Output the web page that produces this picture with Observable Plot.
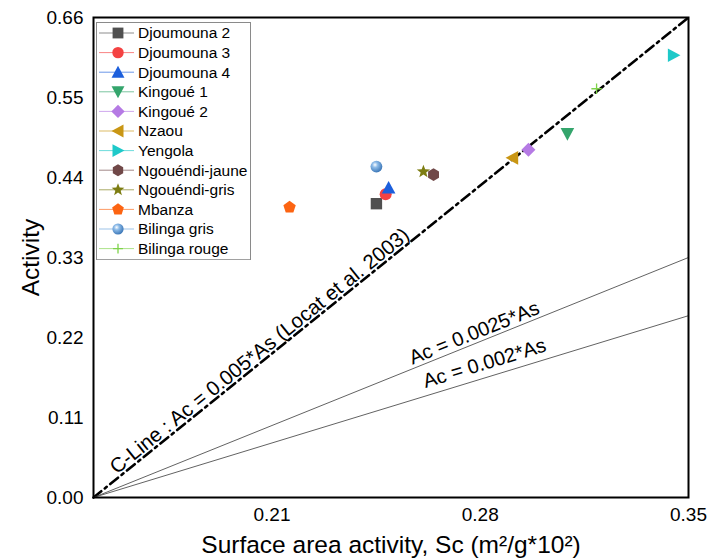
<!DOCTYPE html>
<html>
<head>
<meta charset="utf-8">
<script src="https://cdn.jsdelivr.net/npm/d3@7"></script>
<script src="https://cdn.jsdelivr.net/npm/@observablehq/plot@0.6"></script>
<style>
  body { margin: 0; background: #fff; font-family: "Liberation Sans", Arial, sans-serif; }
  #chart { position: relative; width: 714px; height: 560px; }
  #legend { position: absolute; left: 96px; top: 22px; }
</style>
</head>
<body>
<div id="chart"></div>
<script>
// ---- data ----
const samples = ["Djoumouna 2", "Djoumouna 3", "Djoumouna 4", "Kingoué 1", "Kingoué 2", "Nzaou",
  "Yengola", "Ngouéndi-jaune", "Ngouéndi-gris", "Mbanza", "Bilinga gris", "Bilinga rouge"];
const surfaceActivity = [0.2451, 0.2482, 0.2492, 0.3093, 0.2962, 0.2908, 0.3450, 0.2643, 0.2609, 0.2159, 0.2451, 0.3191];
const activity = [0.404, 0.417, 0.426, 0.500, 0.478, 0.467, 0.608, 0.444, 0.448, 0.399, 0.455, 0.562];
const colors = ["#505050", "#f44242", "#1c5fdc", "#34a56c", "#b57ae4", "#c99614", "#1ec9c9", "#704848", "#7d7d12", "#fc6412", "#6aa3db", "#7ed34a"];
const symbolNames = ["square", "circle", "triUp", "triDown", "diamond", "triLeft", "triRight", "hexagon", "star", "pentagon", "sphere", "plus"];

const xTicks = [0.21, 0.28, 0.35];
const yTicks = [0, 0.11, 0.22, 0.33, 0.44, 0.55, 0.66];
const xDomain = [0.15, 0.35];
const yDomain = [0, 0.66];

// reference lines: activity reached at the right edge (Sc = 0.35), starting from (0.15, 0)
const refLabels = ["C-Line : Ac = 0.005*As (Locat et al. 2003)", "Ac = 0.0025*As", "Ac = 0.002*As"];
const refEndActivity = [0.66, 0.33, 0.25];
const refLabelStart = [0.1578, 0.2572, 0.2616];
const refLabelLift = [-4, -4, -8];
const refLabelSize = [20.5, 20, 20];

const xLabel = "Surface area activity, Sc (m²/g*10²)";
const yLabel = "Activity";

// ---- layout ----
const W = 714, H = 560, ML = 93, MR = 26, MT = 17, MB = 63;
const pxPerX = (W - ML - MR) / (xDomain[1] - xDomain[0]);
const pxPerY = (H - MT - MB) / (yDomain[1] - yDomain[0]);

// ---- custom symbols ----
const shapes = {
  square: (c, r) => { c.moveTo(-r, -r); c.lineTo(r, -r); c.lineTo(r, r); c.lineTo(-r, r); c.closePath(); },
  circle: (c, r) => { c.moveTo(r, 0); c.arc(0, 0, r, 0, 2 * Math.PI); c.closePath(); },
  sphere: (c, r) => { c.moveTo(r, 0); c.arc(0, 0, r, 0, 2 * Math.PI); c.closePath(); },
  triUp: (c, r) => { c.moveTo(0, -r); c.lineTo(r, 0.85 * r); c.lineTo(-r, 0.85 * r); c.closePath(); },
  triDown: (c, r) => { c.moveTo(0, r); c.lineTo(r, -0.85 * r); c.lineTo(-r, -0.85 * r); c.closePath(); },
  triLeft: (c, r) => { c.moveTo(-r, 0); c.lineTo(0.85 * r, -r); c.lineTo(0.85 * r, r); c.closePath(); },
  triRight: (c, r) => { c.moveTo(r, 0); c.lineTo(-0.85 * r, -r); c.lineTo(-0.85 * r, r); c.closePath(); },
  diamond: (c, r) => { c.moveTo(0, -r); c.lineTo(r, 0); c.lineTo(0, r); c.lineTo(-r, 0); c.closePath(); },
  hexagon: (c, r) => { for (let k = 0; k < 6; k++) { const a = -Math.PI / 2 + k * Math.PI / 3; k ? c.lineTo(r * Math.cos(a), r * Math.sin(a)) : c.moveTo(r * Math.cos(a), r * Math.sin(a)); } c.closePath(); },
  pentagon: (c, r) => { for (let k = 0; k < 5; k++) { const a = -Math.PI / 2 + k * 2 * Math.PI / 5; k ? c.lineTo(r * Math.cos(a), r * Math.sin(a)) : c.moveTo(r * Math.cos(a), r * Math.sin(a)); } c.closePath(); },
  star: (c, r) => { for (let k = 0; k < 10; k++) { const a = -Math.PI / 2 + k * Math.PI / 5; const rr = k % 2 ? r * 0.42 : r; k ? c.lineTo(rr * Math.cos(a), rr * Math.sin(a)) : c.moveTo(rr * Math.cos(a), rr * Math.sin(a)); } c.closePath(); },
  plus: (c, r) => { c.moveTo(-r, 0); c.lineTo(r, 0); c.moveTo(0, -r); c.lineTo(0, r); }
};
const sizes = { square: 5.7, circle: 6, sphere: 5.9, triUp: 6.8, triDown: 6.8, triLeft: 6.8, triRight: 6.8, diamond: 7, hexagon: 6.3, pentagon: 6.5, star: 7, plus: 5.2 };
const symbolObj = name => ({ draw(ctx, size) { shapes[name](ctx, Math.sqrt(size / Math.PI)); } });

const points = samples.map((s, i) => ({ sample: s, sc: surfaceActivity[i], act: activity[i], color: colors[i], sym: symbolNames[i] }));
const refLines = refLabels.map((label, i) => ({
  label, k: refEndActivity[i] / (xDomain[1] - xDomain[0]),
  pts: [{ sc: xDomain[0], act: 0 }, { sc: xDomain[1], act: refEndActivity[i] }]
}));

const fill = p => p.sym === "plus" ? "none" : p.sym === "sphere" ? "url(#sphereGrad)" : p.color;

const marks = [
  Plot.axisX({ ticks: xTicks, tickSize: 0, tickPadding: 10, tickFormat: d3.format(".2f"), label: null }),
  Plot.axisY({ ticks: yTicks, tickSize: 0, tickPadding: 10, tickFormat: d3.format(".2f"), label: null }),
];
refLines.forEach((rl, i) => {
  marks.push(Plot.line(rl.pts, {
    x: "sc", y: "act",
    stroke: i === 0 ? "black" : "#3a3a3a",
    strokeWidth: i === 0 ? 2.6 : 0.8,
    strokeDasharray: i === 0 ? "10,4.5,2.5,4.5" : null
  }));
  const x0 = refLabelStart[i];
  const angle = -Math.atan(rl.k * pxPerY / pxPerX) * 180 / Math.PI;
  marks.push(Plot.text([{ sc: x0, act: rl.k * (x0 - xDomain[0]), t: rl.label }], {
    x: "sc", y: "act", text: "t", rotate: angle, textAnchor: "start", lineAnchor: "bottom",
    dy: refLabelLift[i], fontSize: refLabelSize[i], fill: "black"
  }));
});
points.forEach(p => {
  marks.push(Plot.dot([p], {
    x: "sc", y: "act", symbol: symbolObj(p.sym), r: sizes[p.sym],
    fill: fill(p), stroke: p.sym === "plus" ? p.color : "none", strokeWidth: 1.3
  }));
});
marks.push(Plot.frame({ stroke: "black", strokeWidth: 2 }));
marks.push(Plot.text([xLabel], { text: d => d, frameAnchor: "bottom", textAnchor: "middle", lineAnchor: "bottom", dy: 55, fontSize: 24.5, fill: "black" }));
marks.push(Plot.text([yLabel], { text: d => d, frameAnchor: "left", textAnchor: "middle", lineAnchor: "middle", dx: -62, rotate: -90, fontSize: 24.5, fill: "black" }));

const plot = Plot.plot({
  width: W, height: H,
  marginLeft: ML, marginRight: MR, marginTop: MT, marginBottom: MB,
  x: { domain: xDomain },
  y: { domain: yDomain },
  style: { fontFamily: "'Liberation Sans', Arial, sans-serif", fontSize: "19px", background: "white", color: "black", overflow: "visible" },
  marks
});

// sphere gradient
const svg = d3.select(plot);
const defs = svg.insert("defs", ":first-child");
function addGrad(sel, id) {
  const g = sel.append("radialGradient").attr("id", id).attr("cx", "38%").attr("cy", "35%").attr("r", "65%");
  g.append("stop").attr("offset", "0%").attr("stop-color", "#ffffff");
  g.append("stop").attr("offset", "35%").attr("stop-color", "#8dbbe8");
  g.append("stop").attr("offset", "100%").attr("stop-color", "#3d78b8");
}
addGrad(defs, "sphereGrad");

const chart = document.getElementById("chart");
chart.appendChild(plot);

// ---- legend ----
const LW = 154, rowH = 19.6, LH = samples.length * rowH + 2;
const leg = d3.select(chart).append("svg").attr("id", "legend").attr("width", LW + 1).attr("height", LH + 1)
  .style("font-family", "'Liberation Sans', Arial, sans-serif");
addGrad(leg.append("defs"), "sphereGradLeg");
leg.append("rect").attr("x", 0.5).attr("y", 0.5).attr("width", LW).attr("height", LH)
  .attr("fill", "white").attr("stroke", "#8a8a8a").attr("stroke-width", 1);
points.forEach((p, i) => {
  const cy = 11 + i * rowH;
  const g = leg.append("g").attr("transform", `translate(0,${cy})`);
  g.append("line").attr("x1", 3).attr("x2", 38).attr("y1", 0).attr("y2", 0)
    .attr("stroke", p.color).attr("stroke-opacity", 0.65).attr("stroke-width", 1);
  const path = d3.path();
  shapes[p.sym](path, sizes[p.sym] * 0.95);
  g.append("path").attr("transform", "translate(22,0)").attr("d", path.toString())
    .attr("fill", p.sym === "plus" ? "none" : p.sym === "sphere" ? "url(#sphereGradLeg)" : p.color)
    .attr("stroke", p.sym === "plus" ? p.color : "none").attr("stroke-width", 1.3);
  g.append("text").attr("x", 42).attr("y", 0).attr("dy", "0.35em").attr("font-size", "15.5px").attr("fill", "black").text(p.sample);
});
</script>
</body>
</html>
